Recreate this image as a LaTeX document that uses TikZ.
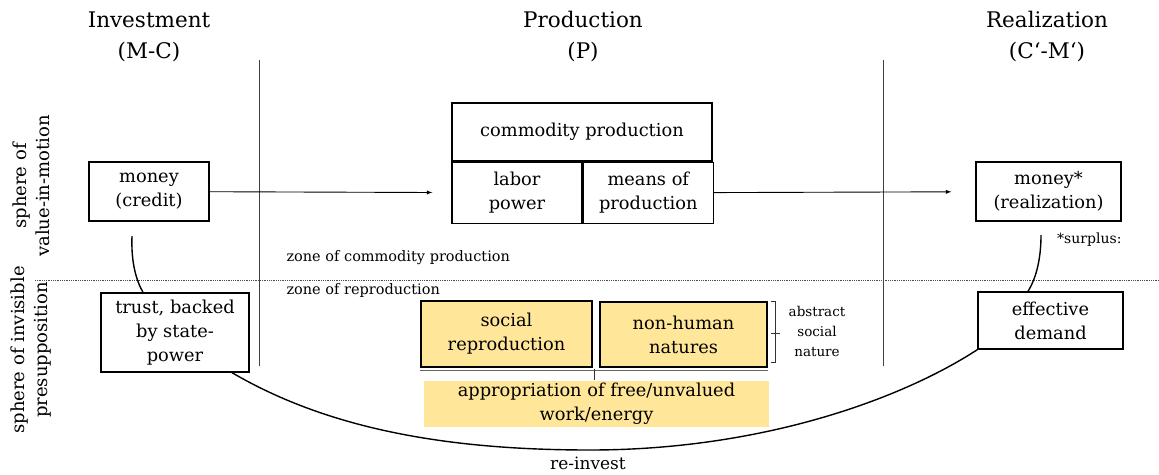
\documentclass[tikz,border=0pt]{standalone}
\usepackage{fontspec}
\setmainfont{DejaVu Serif}
\usepackage{tikz}
\usetikzlibrary{arrows,positioning}
\definecolor{natyellow}{HTML}{FFE699}

\begin{document}
\begin{tikzpicture}
[x=1pt, y=-1pt,
head/.style={align=center, font=\fontsize{21.5}{31}\selectfont},
side/.style={align=center, rotate=90, font=\fontsize{18}{23}\selectfont},
box/.style={rectangle, draw=black, line width=1.3pt, align=center, inner sep=0pt, font=\fontsize{17.8}{24}\selectfont},
nature/.style={box, fill=natyellow, line width=1.6pt},
zone/.style={anchor=west, font=\fontsize{14.5}{17}\selectfont},
small/.style={align=center, font=\fontsize{13.5}{20}\selectfont},
divider/.style={draw=black!75, line width=0.8pt},
link/.style={line width=1.4pt}
]
\useasboundingbox (0,0) rectangle (1159,474);

%Nodes
\node[head]   (invest)    at (149,37)     {Investment\\(M-C)};
\node[head]   (prod)      at (583,37)     {Production\\(P)};
\node[head]   (real)      at (1047,37)    {Realization\\(C‘-M‘)};
\node[side]   (valsphere) at (31,186)     {sphere of\\value-in-motion};
\node[side]   (invsphere) at (31,350)     {sphere of invisible\\presupposition};

\node[box, minimum width=120, minimum height=59]  (money)      at (149,191.5)  {money\\(credit)};
\node[box, minimum width=260, minimum height=58]  (commodity)  at (582,132)    {commodity production};
\node[box, minimum width=130, minimum height=61, anchor=north west] (labor) at (commodity.south west) {labor\\power};
\node[box, minimum width=130, minimum height=61, anchor=north west] (means) at (labor.north east)     {means of\\production};
\node[box, minimum width=145, minimum height=59]  (moneystar)  at (1048.5,191.5) {money*\\(realization)};
\node[small, anchor=east, font=\fontsize{14}{17}\selectfont] (surplus) at (1125,240) {*surplus:};

\node[zone]   (zonecp)    at (283,258)    {zone of commodity production};
\node[zone]   (zonerep)   at (283,290)    {zone of reproduction};

\node[box, minimum width=148, minimum height=79]  (trust)      at (175,332.5)  {trust, backed\\by state-\\power};
\node[box, minimum width=145, minimum height=57]  (effective)  at (1050.5,320.5) {effective\\demand};
\node[nature, minimum width=171, minimum height=66] (social)   at (506.5,334)  {social\\reproduction};
\node[nature, minimum width=167, minimum height=65] (nonhuman) at (683.5,334.5) {non-human\\natures};
\node[box, draw=none, fill=natyellow, minimum width=345, minimum height=46] (approp) at (596.5,404) {appropriation of free/unvalued\\work/energy};
\node[small]  (abstract)  at (817,331) {abstract\\social\\nature};
\node[small, font=\fontsize{17}{22}\selectfont] (reinvest) at (588,463) {re-invest};

\coordinate (credittail)  at (132,236);
\coordinate (realtail)    at (1041,235);

%Lines
\draw[divider] (259,60) -- (259,366);
\draw[divider] (883,60) -- (883,366);
\draw[densely dotted, black!70, line width=0.8pt] (35,280) -- (1159,280);
\draw[line width=2.6pt] (commodity.south west) -- (commodity.south east);

\path[-latex, line width=0.9pt]
(money) edge [shorten >=19pt]  (labor)
(means) edge [shorten >=24pt]  (moneystar);

\draw[link] (credittail) .. controls (131,262) and (136,280) .. ([xshift=-32pt]trust.north);
\draw[link] (realtail) .. controls (1041,262) and (1035,280) .. ([xshift=-22.5pt]effective.north);
\draw[link] ([xshift=57pt]trust.south) .. controls (330,430) and (450,450) .. (590,450)
            .. controls (760,450) and (900,400) .. (effective.south west);

%brackets
\draw[black!80] ([xshift=3pt]nonhuman.north east) -- ++(4,0) -- ([xshift=7pt,yshift=6pt]nonhuman.south east) -- ++(-4,0);
\draw[black!80] (771,333) -- (780,333);
\draw[black!60] ([yshift=-2pt]social.south west) -- ([yshift=-2pt]nonhuman.south east);
\draw[black!80] (594,369) -- (approp.north -| 594,0);
\end{tikzpicture}
\end{document}
